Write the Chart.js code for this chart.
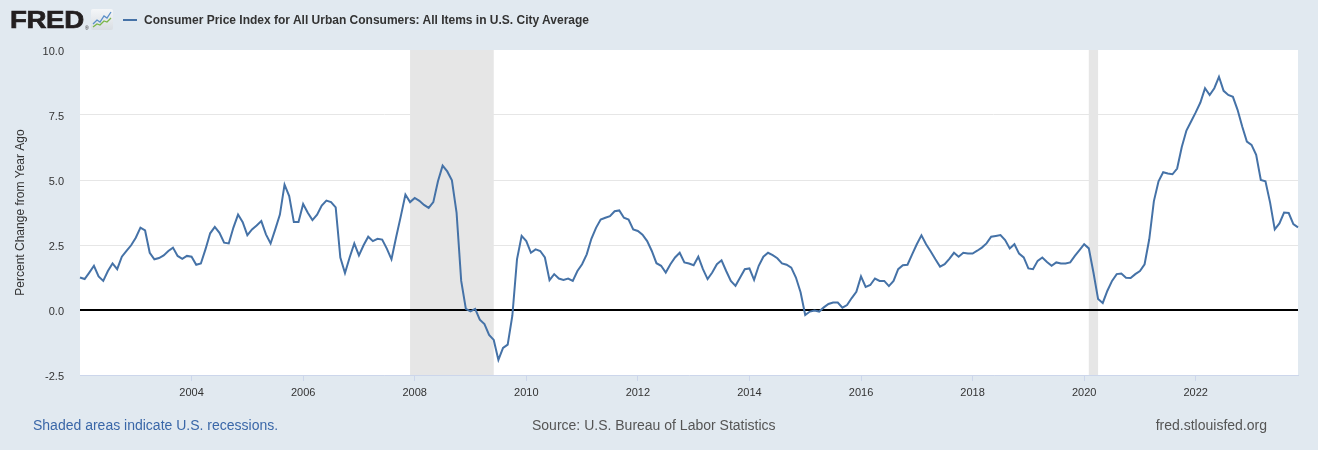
<!DOCTYPE html>
<html>
<head>
<meta charset="utf-8">
<script src="https://cdn.jsdelivr.net/npm/chart.js@4.4.0/dist/chart.umd.min.js"></script>
<style>
html,body{margin:0;padding:0;background:#e1e9f0;width:1318px;height:450px;overflow:hidden;font-family:"Liberation Sans",Arial,Helvetica,sans-serif}
#chart{position:absolute;left:0;top:0}
.t{position:absolute;white-space:nowrap}
#logo{left:10px;top:8px;font-size:24px;line-height:24px;font-weight:bold;color:#231f20;transform:scaleX(1.15);transform-origin:0 0;-webkit-text-stroke:0.7px #231f20;letter-spacing:-0.3px}
#reg{left:85px;top:26px;font-size:5px;line-height:5px;color:#231f20}
#icon{position:absolute;left:91px;top:9px}
#leg{position:absolute;left:123px;top:19px;width:14px;height:2px;background:#4572a7}
#title{left:144px;top:13px;font-size:12px;font-weight:bold;color:#333}
#f1{left:33px;top:417px;font-size:14px;color:#3a67a8}
#f2{left:532px;top:417px;font-size:14px;color:#555}
#f3{right:51px;top:417px;font-size:14px;color:#555}
</style>
</head>
<body>
<canvas id="chart" width="1318" height="450"></canvas>
<div class="t" id="logo">FRED</div>
<div class="t" id="reg">®</div>
<svg id="icon" width="22" height="21" viewBox="0 0 22 21">
  <defs><linearGradient id="g" x1="0" y1="0" x2="0" y2="1"><stop offset="0" stop-color="#f4f6f8"/><stop offset="1" stop-color="#d9dee3"/></linearGradient></defs>
  <rect x="0" y="0" width="22" height="21" rx="2" fill="url(#g)"/>
  <polyline points="2,15 6,11 9,13 13,7 16,9 20,3" fill="none" stroke="#5b8fc9" stroke-width="1.3"/>
  <polyline points="2,18 6,15 9,16 13,12 16,13 20,9" fill="none" stroke="#7ab648" stroke-width="1.3"/>
</svg>
<div id="leg"></div>
<div class="t" id="title">Consumer Price Index for All Urban Consumers: All Items in U.S. City Average</div>
<div class="t" id="f1">Shaded areas indicate U.S. recessions.</div>
<div class="t" id="f2">Source: U.S. Bureau of Labor Statistics</div>
<div class="t" id="f3">fred.stlouisfed.org</div>
<script>
// ---- Data ----
const startYear = 2002;
const years = [2002,2003,2004,2005,2006,2007,2008,2009,2010,2011,2012,2013,2014,2015,2016,2017,2018,2019,2020,2021,2022,2023];
const cpiYoY = [
  1.25, 1.19, 1.44, 1.70, 1.29, 1.12, 1.50, 1.79, 1.57, 2.05, 2.27, 2.49,
  2.78, 3.17, 3.06, 2.20, 1.95, 2.00, 2.10, 2.27, 2.40, 2.08, 1.97, 2.08,
  2.05, 1.74, 1.79, 2.34, 2.95, 3.20, 2.97, 2.59, 2.56, 3.17, 3.67, 3.38,
  2.88, 3.10, 3.25, 3.42, 2.91, 2.56, 3.10, 3.67, 4.82, 4.38, 3.38, 3.38,
  4.08, 3.74, 3.46, 3.67, 4.02, 4.21, 4.15, 3.95, 2.02, 1.42, 2.02, 2.56,
  2.10, 2.49, 2.82, 2.65, 2.74, 2.71, 2.36, 1.95, 2.80, 3.60, 4.44, 4.15,
  4.31, 4.20, 4.04, 3.93, 4.15, 4.95, 5.55, 5.33, 4.99, 3.75, 1.12, 0.04,
  -0.05, 0.04, -0.37, -0.54, -0.96, -1.15, -1.92, -1.46, -1.33, -0.22, 1.95, 2.85,
  2.65, 2.20, 2.33, 2.27, 2.02, 1.15, 1.38, 1.21, 1.16, 1.21, 1.12, 1.50,
  1.76, 2.14, 2.74, 3.16, 3.48, 3.55, 3.61, 3.80, 3.83, 3.55, 3.48, 3.10,
  3.04, 2.90, 2.65, 2.27, 1.80, 1.70, 1.44, 1.76, 2.02, 2.20, 1.83, 1.79,
  1.72, 2.05, 1.57, 1.19, 1.44, 1.76, 1.91, 1.50, 1.12, 0.93, 1.25, 1.57,
  1.60, 1.16, 1.70, 2.05, 2.20, 2.11, 1.99, 1.79, 1.74, 1.63, 1.25, 0.68,
  -0.19, -0.06, -0.02, -0.06, 0.10, 0.23, 0.29, 0.29, 0.09, 0.19, 0.46, 0.70,
  1.29, 0.89, 0.96, 1.21, 1.12, 1.12, 0.92, 1.12, 1.57, 1.72, 1.74, 2.14,
  2.53, 2.87, 2.53, 2.25, 1.95, 1.67, 1.76, 1.97, 2.20, 2.05, 2.20, 2.17,
  2.17, 2.28, 2.40, 2.56, 2.82, 2.85, 2.88, 2.69, 2.37, 2.53, 2.17, 2.02,
  1.60, 1.57, 1.89, 2.02, 1.85, 1.70, 1.83, 1.79, 1.79, 1.83, 2.08, 2.30,
  2.53, 2.37, 1.44, 0.42, 0.27, 0.74, 1.12, 1.38, 1.40, 1.24, 1.23, 1.38,
  1.50, 1.76, 2.72, 4.19, 4.95, 5.30, 5.25, 5.22, 5.44, 6.27, 6.90, 7.25,
  7.60, 7.98, 8.53, 8.27, 8.53, 8.97, 8.43, 8.27, 8.20, 7.70, 7.06, 6.48,
  6.35, 5.97, 5.00, 4.95, 4.13, 3.10, 3.33, 3.75, 3.73, 3.30, 3.18
];
const xTickLabels = ['2004','2006','2008','2010','2012','2014','2016','2018','2020','2022'];
const yTicks = [-2.5, 0, 2.5, 5, 7.5, 10];
const recessionStarts = ['2007-12','2020-02'];
const recessionEnds = ['2009-06','2020-04'];

// month categories
const months = [];
for (let i = 0; i < cpiYoY.length; i++) {
  const y = startYear + Math.floor(i / 12);
  const m = (i % 12) + 1;
  months.push(y + '-' + String(m).padStart(2, '0'));
}
const labeledMonths = xTickLabels.map(y => y + '-01');

const FONT = '"Liberation Sans", Arial, Helvetica, sans-serif';

const bgPlugin = {
  id: 'bgAndShade',
  beforeDraw(chart) {
    const {ctx, chartArea: a, scales: {x}} = chart;
    ctx.save();
    ctx.fillStyle = '#ffffff';
    ctx.fillRect(a.left, a.top, a.right - a.left, a.bottom - a.top);
    ctx.fillStyle = '#e6e6e6';
    for (let i = 0; i < recessionStarts.length; i++) {
      const x0 = x.getPixelForValue(months.indexOf(recessionStarts[i]));
      const x1 = x.getPixelForValue(months.indexOf(recessionEnds[i]));
      ctx.fillRect(x0, a.top, x1 - x0, a.bottom - a.top);
    }
    ctx.restore();
  }
};

new Chart(document.getElementById('chart'), {
  type: 'line',
  data: {
    labels: months,
    datasets: [{
      data: cpiYoY,
      borderColor: '#4572a7',
      borderWidth: 2,
      pointRadius: 0,
      tension: 0,
      fill: false
    }]
  },
  options: {
    responsive: false,
    animation: false,
    devicePixelRatio: 1,
    layout: {padding: {left: 0, top: 50, right: 20, bottom: 0}},
    plugins: {legend: {display: false}, tooltip: {enabled: false}},
    scales: {
      x: {
        type: 'category',
        offset: false,
        afterFit(s) { s.height = 75; },
        border: {display: true, color: '#ccd6eb', width: 1},
        grid: {
          drawOnChartArea: false,
          drawTicks: true,
          tickLength: 6,
          offset: false,
          color: c => (c.tick && labeledMonths.includes(months[c.tick.value])) ? '#ccd6eb' : 'rgba(0,0,0,0)'
        },
        ticks: {
          autoSkip: false,
          maxRotation: 0,
          minRotation: 0,
          padding: 5,
          color: '#333',
          font: {family: FONT, size: 11},
          callback(v) {
            const lab = months[v];
            return labeledMonths.includes(lab) ? lab.slice(0, 4) : '';
          }
        }
      },
      y: {
        min: -2.5,
        max: 10,
        afterFit(s) { s.width = 80; },
        afterBuildTicks(s) { s.ticks = yTicks.map(v => ({value: v})); },
        border: {display: false},
        grid: {
          drawTicks: false,
          color: c => c.tick.value === 0 ? '#000000' : (c.tick.value === 10 || c.tick.value === -2.5 ? 'rgba(0,0,0,0)' : '#e6e6e6'),
          lineWidth: c => c.tick.value === 0 ? 2 : 1
        },
        ticks: {
          padding: 16,
          labelOffset: 2,
          color: '#333',
          font: {family: FONT, size: 11},
          callback: v => v.toFixed(1)
        },
        title: {
          display: true,
          text: 'Percent Change from Year Ago',
          color: '#333',
          font: {family: FONT, size: 12},
          padding: {top: 13, bottom: 0}
        }
      }
    }
  },
  plugins: [bgPlugin]
});
</script>
</body>
</html>
